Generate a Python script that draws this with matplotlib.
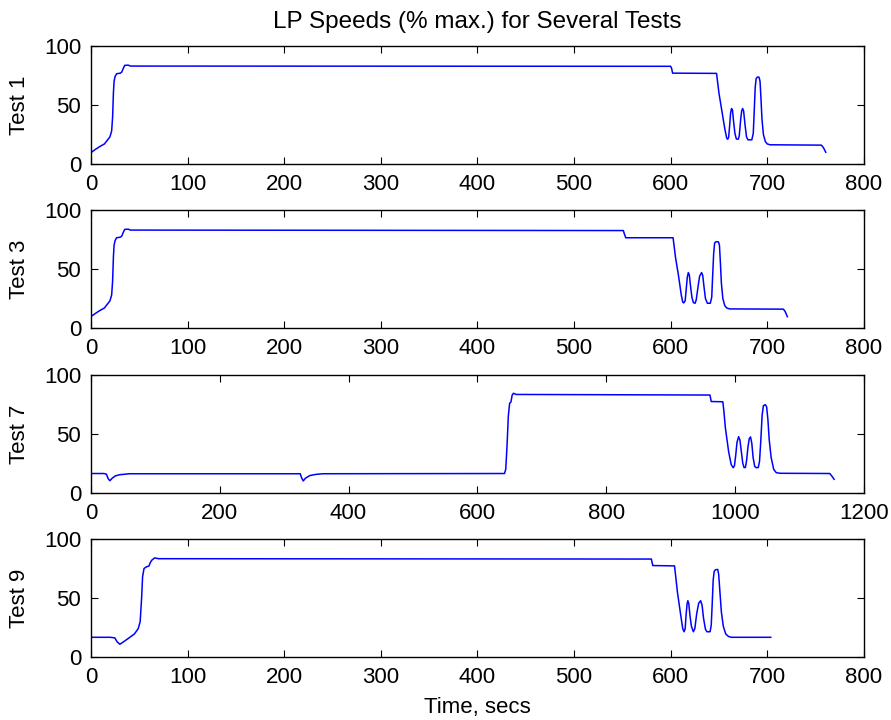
import matplotlib
matplotlib.use("Agg")
import matplotlib.pyplot as plt

plt.rcParams['font.family'] = ['Liberation Sans', 'DejaVu Sans']

title = "LP Speeds (% max.) for Several Tests"
xlabel = "Time, secs"
test_names = ["Test 1", "Test 3", "Test 7", "Test 9"]

# Test 1 (time in secs, speed % max)
t1 = [0, 4, 9, 14, 19.7, 21.5, 22.5, 23.3, 24, 25, 26.6, 30.5, 32, 33.5, 35, 38.5, 41,
      600, 601, 602, 647.5, 648.5, 650, 653, 656, 658, 659, 660, 661, 662, 663, 664, 665,
      666.5, 668, 670, 671, 672.5, 673.5, 674.5, 675.5, 677, 678.5, 680, 684, 685.5, 686.5,
      687.5, 688.5, 690, 691.5, 692.5, 693.5, 694.5, 696, 698, 700, 703, 756, 758, 760.5]
v1 = [9.6, 12, 14.7, 17, 23, 28, 40, 60, 70, 74, 76.5, 77, 78, 81, 83.6, 83.8, 83,
      82.8, 81, 77, 76.8, 70, 60, 45, 30, 22, 21, 22.5, 32, 43, 47, 45.5, 37,
      26, 21.2, 21, 24, 38, 45, 47, 45, 33, 23, 20.5, 20.5, 26, 45,
      65, 72.5, 73.8, 73.5, 70, 55, 38, 25, 19, 17, 16.3, 16, 14, 10]

# Test 3
t3 = [0, 4, 9, 14, 19.7, 21.5, 22.5, 23.3, 24, 25, 26.6, 30.5, 32, 33.5, 35, 38.5, 41,
      551, 552, 553.5, 602.5, 603.5, 605, 608, 611, 612.5, 613.5, 615, 616, 617.2, 618.3,
      619.3, 620.5, 622, 623.5, 625.3, 626.5, 628.5, 630, 632, 633.2, 634.5, 636, 638, 641,
      642.5, 643.5, 644.5, 645.5, 647, 649.5, 650.5, 651.5, 652.5, 654, 656, 658, 661,
      716.7, 718.5, 720.8]
v3 = [9.6, 12, 14.7, 17, 23, 28, 40, 60, 70, 74, 76.5, 77, 78, 81, 83.6, 83.8, 83,
      82.6, 80, 76.5, 76.5, 70, 60, 45, 28, 22, 21.3, 23, 32, 43, 47,
      45, 36, 26, 21.5, 21, 24, 36, 44, 47, 44.5, 35, 25, 21, 21,
      26, 45, 63, 72, 73.2, 73, 70, 55, 38, 25, 19, 17, 16.2,
      16, 14, 9.6]

# Test 7
t7 = [0, 20, 24, 27, 29.5, 33, 38, 45, 60, 325, 327, 329.7, 333, 340, 350, 360,
      642, 644, 646, 648, 650, 652, 654, 656, 660, 961, 963, 981, 982.5, 985, 990, 994,
      997, 999, 1001, 1003, 1005.5, 1007.5, 1009.5, 1012, 1014, 1016, 1018, 1020, 1022,
      1024, 1026, 1028, 1030.5, 1033, 1036, 1038, 1040, 1042, 1044, 1047, 1049, 1051,
      1053, 1056, 1060, 1064, 1070, 1147, 1150, 1153.7]
v7 = [16.5, 16.5, 16, 12, 10.4, 12.5, 14.5, 15.5, 16.3, 16.3, 13, 10.2, 12.5, 14.8, 15.8, 16.3,
      16.5, 20, 40, 65, 76, 77, 83, 84.5, 83.5, 83, 77.5, 77.3, 70, 55, 35, 24,
      21.4, 23, 32, 43, 47.7, 45, 36, 25, 21.5, 21.6, 28, 39, 46,
      47.5, 42, 30, 22.5, 21.4, 21.6, 27, 45, 66, 74, 74.8, 73, 62,
      45, 30, 20, 17.2, 16.7, 16.5, 14.5, 11.6]

# Test 9
t9 = [0, 20, 24.8, 27, 30, 34, 40, 45, 49, 51, 52.5, 53.5, 55, 57.7, 60, 61.5, 63, 66, 70,
      580, 581.5, 604, 605, 607, 610.5, 612.5, 613.9, 615, 616, 617, 617.8, 618.8, 620,
      621.5, 623.5, 625, 627, 629, 631, 632.5, 634, 636, 637.5, 640.8, 642, 643, 644, 645,
      646.5, 648.7, 649.7, 651, 652.5, 654.5, 657, 660, 663, 703.6]
v9 = [16.7, 16.7, 16.2, 13, 10.8, 13, 16.5, 19.5, 24, 30, 50, 68, 75, 76.5, 77, 80, 82, 84, 83.3,
      83, 77.5, 77.2, 70, 55, 35, 24, 21.4, 24, 36, 45, 47.7, 45, 35,
      26, 21.4, 24, 37, 45.5, 47.7, 44, 33, 23.5, 21.4, 21.4, 27, 45, 65, 72.5,
      74, 74.2, 70, 55, 38, 26, 19.5, 17.3, 16.7, 16.7]

series = [(t1, v1), (t3, v3), (t7, v7), (t9, v9)]
xlims = [800, 800, 1200, 800]
xsteps = [100, 100, 200, 100]
yticks = [0, 50, 100]

fig = plt.figure(figsize=(8.91, 7.2), dpi=100)
left, width, height = 0.102, 0.8676, 0.1639
bottoms = [0.7722, 0.5444, 0.3153, 0.0875]
FS = 16

for i, (name, (t, v)) in enumerate(zip(test_names, series)):
    ax = fig.add_axes([left, bottoms[i], width, height])
    ax.plot(t, v, color=(0, 0, 1), lw=1.1)
    ax.set_xlim(0, xlims[i])
    ax.set_ylim(0, 100)
    ax.set_xticks(list(range(0, xlims[i] + 1, xsteps[i])))
    ax.set_yticks(yticks)
    ax.tick_params(direction='in', length=5, width=0.8, top=True, right=True,
                   labelsize=FS, colors='black')
    ax.tick_params(axis='x', pad=7.5)
    ax.tick_params(axis='y', pad=7)
    for sp in ax.spines.values():
        sp.set_linewidth(1.0)
    ax.set_ylabel(name, fontsize=FS, labelpad=10)
    if i == 0:
        ax.set_title(title, fontsize=17.5, pad=13)
    if i == 3:
        ax.set_xlabel(xlabel, fontsize=FS, labelpad=6)

fig.savefig("out.png", dpi=100)
